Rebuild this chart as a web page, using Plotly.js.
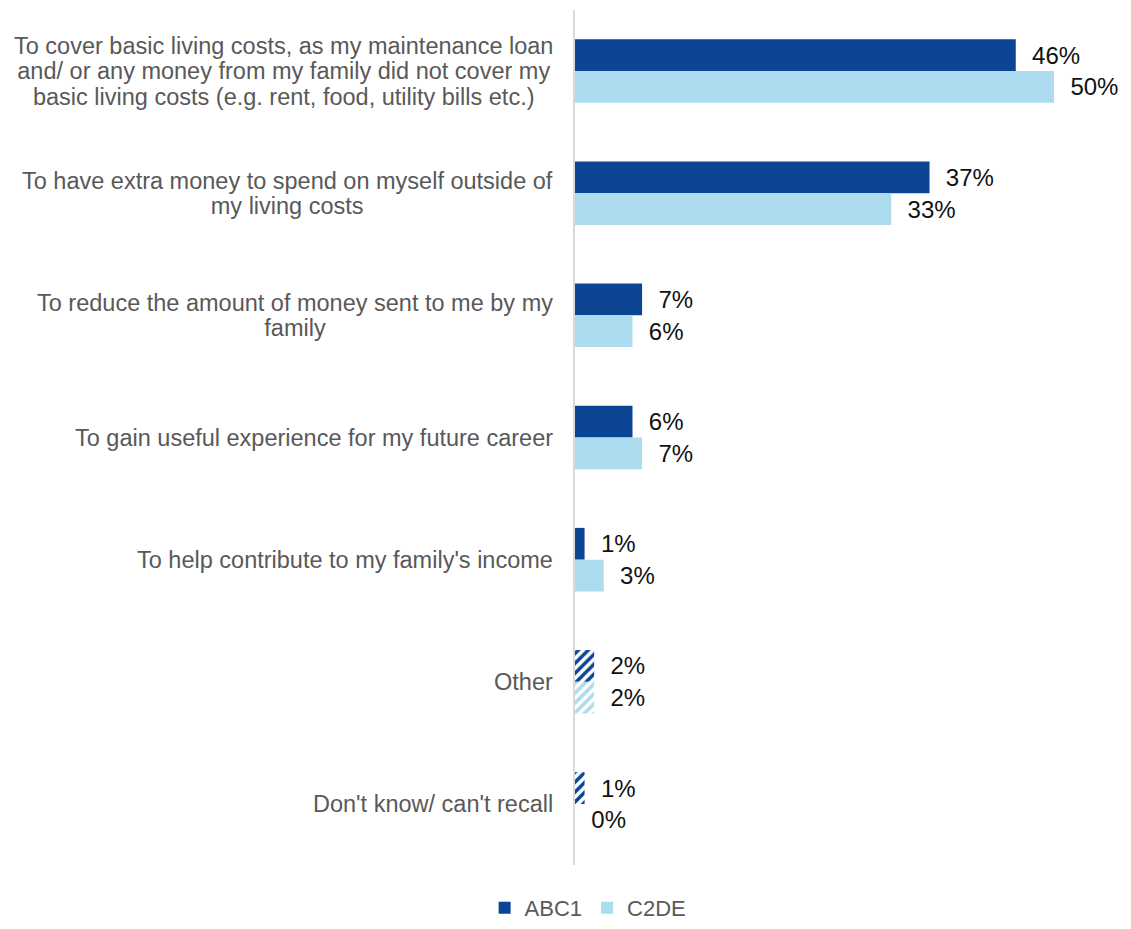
<!DOCTYPE html>
<html>
<head>
<meta charset="utf-8">
<script src="https://cdn.plot.ly/plotly-3.0.1.min.js"></script>
<style>
  html, body { margin: 0; padding: 0; background: #fff; }
  #chart { width: 1131px; height: 929px; }
</style>
</head>
<body>
<div id="chart"></div>
<script>
const categories = [
  "To cover basic living costs, as my maintenance loan<br>and/ or any money from my family did not cover my<br>basic living costs (e.g. rent, food, utility bills etc.)",
  "To have extra money to spend on myself outside of<br>my living costs",
  "To reduce the amount of money sent to me by my<br>family",
  "To gain useful experience for my future career",
  "To help contribute to my family's income",
  "Other",
  "Don't know/ can't recall"
];
const abc1 = [46, 37, 7, 6, 1, 2, 1];
const c2de = [50, 33, 6, 7, 3, 2, 0];
const hatched = ["", "", "", "", "", "/", "/"];

const darkBlue = "#0B4594";
const lightBlue = "#ADDCF0";
const FONT = "Liberation Sans, Arial, sans-serif";
const labelFont = { family: FONT, size: 24, color: "#111111" };

function barTrace(name, values, color) {
  return {
    type: "bar",
    orientation: "h",
    name: name,
    y: categories,
    x: values,
    marker: {
      color: color,
      pattern: { shape: hatched, fgcolor: color, bgcolor: "#ffffff", size: 7, solidity: 0.5, fillmode: "replace" }
    },
    text: values.map(v => "\u00a0\u00a0" + v + "%"),
    texttemplate: "%{text}",
    textposition: "outside",
    textfont: labelFont,
    cliponaxis: false,
    hoverinfo: "skip"
  };
}

const data = [barTrace("ABC1", abc1, darkBlue), barTrace("C2DE", c2de, lightBlue)];

// Tight line spacing: base font sets line pitch (1.3em ≈ 25.5px), inner span sets glyph size
const annotations = categories.map(c => ({
  text: c.split("<br>").map(l => '<span style="font-size:23.5px">' + l + '</span>').join("<br>"),
  xref: "paper", x: 0, xanchor: "right", xshift: -20,
  yref: "y", y: c, yanchor: "middle",
  align: "center",
  showarrow: false,
  font: { family: FONT, size: 19.6, color: "#595959" }
}));

const layout = {
  width: 1131, height: 929,
  paper_bgcolor: "#ffffff", plot_bgcolor: "#ffffff",
  margin: { l: 575, r: 29, t: 10, b: 64 },
  barmode: "group",
  bargap: 0.48,
  bargroupgap: 0,
  showlegend: true,
  legend: {
    orientation: "h",
    xref: "container", x: 0.52, xanchor: "center",
    yref: "container", y: 0.0, yanchor: "bottom",
    font: { family: FONT, size: 22, color: "#595959" },
    itemwidth: 30, tracegroupgap: 0
  },
  xaxis: {
    range: [0, 55],
    showgrid: false, zeroline: false, showline: false,
    showticklabels: false, ticks: ""
  },
  yaxis: {
    type: "category",
    autorange: "reversed",
    showgrid: false, zeroline: false,
    showline: true, linecolor: "#D9D9D9", linewidth: 2,
    showticklabels: false, ticks: ""
  },
  annotations: annotations
};

Plotly.newPlot("chart", data, layout, { staticPlot: true, displayModeBar: false });
</script>
</body>
</html>
